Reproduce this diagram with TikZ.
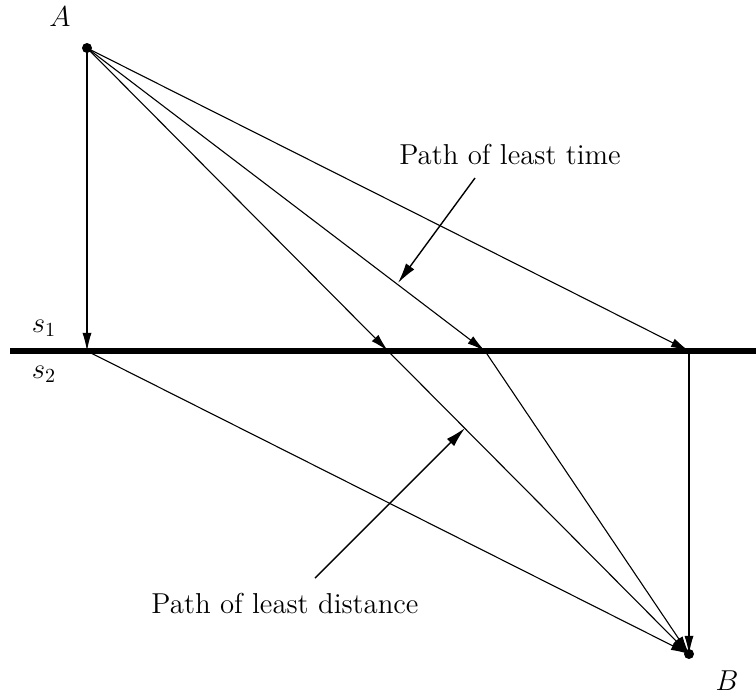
\documentclass[tikz,border=0pt]{standalone}
\usetikzlibrary{arrows.meta}

\begin{document}
\begin{tikzpicture}[
  x=0.5pt,y=-0.5pt,
  ray/.style={-{Latex[length=3.2mm,width=1.6mm]},draw=black,line width=0.55pt},
  pointer/.style={-{Latex[length=3.6mm,width=1.8mm]},draw=black,line width=0.7pt},
  boundary/.style={draw=black,line width=3pt},
  dot/.style={circle,fill=black,inner sep=0pt,minimum size=5pt},
  label/.style={font=\Large},
]
\useasboundingbox (0,0) rectangle (756,697);

\node[dot] (A) at (87,48) {};
\node[dot] (B) at (689,654) {};
\coordinate (L) at (10,351);
\coordinate (R) at (756,351);
\coordinate (P1) at (87,351);
\coordinate (P2) at (388,351);
\coordinate (P3) at (485,351);
\coordinate (P4) at (689,351);

\draw[boundary] (L) -- (R);

\node[label] (nA) at (60,17) {$A$};
\node[label] (nB) at (727,681) {$B$};
\node[label] (s1) at (44,328) {$s_1$};
\node[label] (s2) at (44,374) {$s_2$};

% rays from A to the boundary
\foreach \p in {P1,P2,P3,P4}
  \draw[ray] (A.center) -- (\p);
% rays from the boundary to B
\foreach \p in {P1,P2,P3,P4}
  \draw[ray] (\p) -- (B.center);

\node[label] (time) at (510,155) {Path of least time};
\node[label] (dist) at (285,603) {Path of least distance};
\coordinate (t1) at (475,178);
\coordinate (t2) at (398,283);
\coordinate (d1) at (315,578);
\coordinate (d2) at (465,428);
\draw[pointer] (t1) -- (t2);
\draw[pointer] (d1) -- (d2);

\end{tikzpicture}
\end{document}
